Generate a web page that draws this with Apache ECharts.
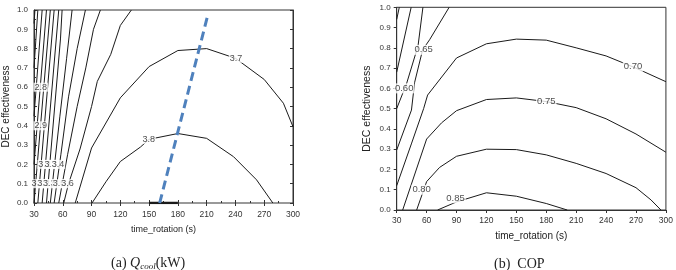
<!DOCTYPE html>
<html lang="en">
<head>
    <meta charset="UTF-8">
    <script src="https://cdn.jsdelivr.net/npm/echarts@6/dist/echarts.min.js"></script>
    <title>DEC contour</title>
    <style>
        body { margin: 0; background: #fff; }
    </style>
</head>
<body>
    <div id="contour_main" style="width: 676px; height: 270px"></div>
<script>

    // axis ticks
    var rotationTicks = [30, 60, 90, 120, 150, 180, 210, 240, 270, 300];
    var effTicks = [0, 0.1, 0.2, 0.3, 0.4, 0.5, 0.6, 0.7, 0.8, 0.9, 1.0];

    // (a) Q_cool contours, [time_rotation, effectiveness]
    var q25 = [[31, 1.0], [30, 0.93]];
    var q26 = [[34, 1.0], [30, 0.7]];
    var q27 = [[38.5, 1.0], [30, 0.45]];
    var q28 = [[43, 1.0], [30, 0.2]];
    var q29 = [[47, 1.0], [30, 0.0]];
    var q30 = [[51, 1.0], [34, 0.0]];
    var q31 = [[55.8, 1.0], [38.5, 0.0]];
    var q32 = [[59.3, 1.0], [57.6, 0.85], [43, 0.0]];
    var q33 = [[69.7, 1.0], [64, 0.75], [57, 0.45], [47, 0.0]];
    var q34 = [[83.6, 1.0], [75, 0.8], [66, 0.55], [58, 0.25], [51, 0.0]];
    var q35 = [[99.2, 1.0], [92, 0.9], [84, 0.7], [75, 0.5], [65, 0.25], [55.8, 0.0]];
    var q36 = [[131.5, 1.0], [120, 0.92], [110, 0.77], [96, 0.63], [90, 0.5], [78, 0.28], [66, 0.1], [61, 0.0]];
    var q37 = [[73, 0.0], [90, 0.285], [120, 0.545], [150, 0.707], [180, 0.79], [210, 0.80], [240, 0.75], [270, 0.64], [290, 0.517], [300, 0.395]];
    var q38 = [[90.5, 0.0], [105, 0.11], [120, 0.215], [141, 0.29], [150, 0.33], [180, 0.36], [210, 0.335], [238, 0.24], [262, 0.12], [279, 0.0]];
    var q39 = [[150, 0.0], [180, 0.0]];
    var qLines = [q25, q26, q27, q28, q29, q30, q31, q32, q33, q34, q35, q36, q37, q38];

    // contour labels [x, y, text]
    var qLabels = [
        [37, 0.6, '2.8'], [37, 0.4, '2.9'],
        [41, 0.2, '3.2'], [47.5, 0.2, '3.3'], [55, 0.2, '3.4'],
        [34, 0.1, '3.1'], [40, 0.1, '3.2'], [46, 0.1, '3.3'], [56, 0.1, '3.5'], [65, 0.1, '3.6'],
        [149.5, 0.33, '3.8'], [240.7, 0.75, '3.7']
    ];

    // optimum line
    var qOptimum = [[161, 0.0], [211, 0.97]];

    // (b) COP contours
    var c50 = [[30, 0.94], [32.6, 1.0]];
    var c55 = [[44.5, 1.0], [30, 0.68]];
    var c60 = [[56.3, 1.0], [51.4, 0.81], [40, 0.625], [30, 0.5]];
    var c65 = [[82.6, 1.0], [63, 0.84], [56, 0.79], [48, 0.63], [44.8, 0.493], [30, 0.296]];
    var c70 = [[30, 0.12], [45, 0.33], [57, 0.5], [61, 0.567], [90, 0.75], [120, 0.82], [150, 0.843], [180, 0.838], [210, 0.80], [240, 0.76], [270, 0.70], [300, 0.633]];
    var c75 = [[36, 0.0], [60, 0.35], [75, 0.43], [90, 0.49], [120, 0.545], [150, 0.553], [180, 0.535], [210, 0.505], [240, 0.45], [270, 0.375], [300, 0.285]];
    var c80 = [[50, 0.0], [60, 0.14], [73, 0.21], [90, 0.265], [120, 0.3], [150, 0.298], [180, 0.272], [210, 0.23], [240, 0.18], [270, 0.11], [285, 0.05], [295, 0.0]];
    var c85 = [[71, 0.0], [90, 0.04], [120, 0.085], [150, 0.068], [180, 0.032], [201, 0.0]];
    var cLines = [c50, c55, c60, c65, c70, c75, c80, c85];

    var cLabels = [
        [37.5, 0.6, '0.60'], [57, 0.79, '0.65'], [267, 0.707, '0.70'],
        [180, 0.534, '0.75'], [55, 0.1, '0.80'], [89, 0.058, '0.85']
    ];

    var Chart_Main = echarts.init(document.getElementById('contour_main'));

    function contourSeries(data, idx) {
        return {
            type: 'line',
            xAxisIndex: idx,
            yAxisIndex: idx,
            data: data,
            symbol: 'none',
            silent: true,
            lineStyle: { color: '#1a1a1a', width: 1 }
        };
    }

    function labelSeries(data, idx, size) {
        return {
            type: 'scatter',
            xAxisIndex: idx,
            yAxisIndex: idx,
            data: data,
            symbolSize: 0,
            silent: true,
            z: 5,
            label: {
                show: true,
                position: 'inside',
                formatter: function (p) { return p.data[2]; },
                color: '#222',
                fontSize: size,
                fontFamily: 'Liberation Sans',
                backgroundColor: '#fff',
                padding: [0, 1]
            }
        };
    }

    function bottomAxis(idx, ticksInside) {
        return {
            type: 'value', gridIndex: idx,
            min: rotationTicks[0], max: rotationTicks[rotationTicks.length - 1], interval: 30,
            name: 'time_rotation (s)', nameLocation: 'middle', nameGap: idx == 0 ? 22 : 21,
            nameTextStyle: { fontSize: idx == 0 ? 9 : 10, color: '#222', fontFamily: 'Liberation Sans' },
            axisLine: { lineStyle: { color: '#333' } },
            axisTick: { inside: ticksInside, length: 3, lineStyle: { color: '#333' } },
            minorTick: { show: ticksInside, splitNumber: 2, length: 2, lineStyle: { color: '#333' } },
            axisLabel: { fontSize: 8.5, color: '#333', margin: idx == 0 ? 7 : 6, fontFamily: 'Liberation Sans' },
            splitLine: { show: false }
        };
    }

    function leftAxis(idx, ticksInside) {
        return {
            type: 'value', gridIndex: idx,
            min: effTicks[0], max: effTicks[effTicks.length - 1], interval: 0.1,
            name: 'DEC effectiveness', nameLocation: 'middle', nameGap: idx == 0 ? 23 : 24,
            nameTextStyle: { fontSize: idx == 0 ? 10 : 10.5, color: '#222', fontFamily: 'Liberation Sans' },
            axisLine: { lineStyle: { color: '#333' } },
            axisTick: { inside: ticksInside, length: 3, lineStyle: { color: '#333' } },
            minorTick: { show: ticksInside, splitNumber: 2, length: 2, lineStyle: { color: '#333' } },
            axisLabel: {
                fontSize: 8, color: '#333', margin: 6, fontFamily: 'Liberation Sans',
                formatter: function (v) { return v.toFixed(1); }
            },
            splitLine: { show: false }
        };
    }

    var series = [];
    for (var i in qLines) {
        series.push(contourSeries(qLines[i], 0));
    }
    var top39 = contourSeries(q39, 0);
    top39.lineStyle.width = 2.5;
    series.push(top39);
    series.push({
        type: 'line', xAxisIndex: 0, yAxisIndex: 0, data: qOptimum, symbol: 'none', silent: true, z: 6,
        lineStyle: { color: '#4f81bd', width: 3, type: [9, 5] }
    });
    series.push(labelSeries(qLabels, 0, 9));
    for (var j in cLines) {
        series.push(contourSeries(cLines[j], 1));
    }
    series.push(labelSeries(cLabels, 1, 9.5));

    option = {
        animation: false,
        backgroundColor: '#fff',
        title: [{
            text: '(a) {q|Q}{s|cool}(kW)',
            left: 106, top: 250,
            textStyle: {
                fontSize: 14, fontWeight: 'normal', color: '#222', fontFamily: 'Liberation Serif',
                rich: {
                    q: { fontSize: 14, fontStyle: 'italic', fontFamily: 'Liberation Serif', color: '#222' },
                    s: { fontSize: 9, fontStyle: 'italic', fontFamily: 'Liberation Serif', color: '#222', padding: [7, 0, 0, 0] }
                }
            }
        }, {
            text: '(b)  COP',
            left: 489, top: 252,
            textStyle: { fontSize: 14, fontWeight: 'normal', color: '#222', fontFamily: 'Liberation Serif' }
        }],
        grid: [
            { left: 33.5, top: 10, width: 259.5, height: 193, show: true, borderColor: '#333', borderWidth: 1 },
            { left: 396.7, top: 7.3, width: 273.3, height: 202.7, show: true, borderColor: '#333', borderWidth: 1 }
        ],
        xAxis: [
            bottomAxis(0, true),
            bottomAxis(1, false),
            {
                type: 'value', gridIndex: 0, position: 'top', min: 30, max: 300, interval: 30,
                axisLine: { lineStyle: { color: '#999' } },
                axisTick: { inside: true, length: 3, lineStyle: { color: '#333' } },
                axisLabel: { show: false }, splitLine: { show: false }
            }
        ],
        yAxis: [
            leftAxis(0, true),
            leftAxis(1, false),
            {
                type: 'value', gridIndex: 0, position: 'right', min: 0, max: 1, interval: 0.1,
                axisLine: { lineStyle: { color: '#333' } },
                axisTick: { inside: true, length: 3, lineStyle: { color: '#333' } },
                axisLabel: { show: false }, splitLine: { show: false }
            }
        ],
        series: series
    };

    Chart_Main.setOption(option);

</script>
</body>
</html>
